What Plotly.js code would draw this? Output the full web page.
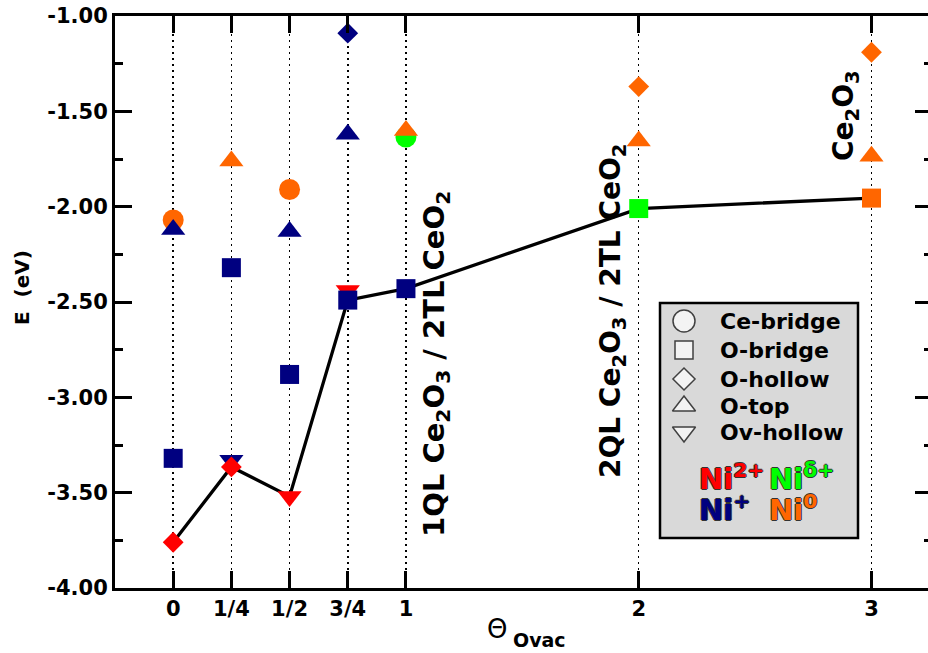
<!DOCTYPE html>
<html>
<head>
<meta charset="utf-8">
<script src="https://cdn.plot.ly/plotly-3.0.1.min.js"></script>
<style>
html, body { margin: 0; padding: 0; overflow: hidden; background: #fff; }
#chart { width: 934px; height: 653px; }
</style>
</head>
<body>
<div id="chart"></div>
<script>
// ---- data ----
const theta = [0, 0.25, 0.5, 0.75, 1, 2, 3];
const thetaLabels = ['0', '1/4', '1/2', '3/4', '1', '2', '3'];
const yTicks = [-4, -3.5, -3, -2.5, -2, -1.5, -1];

const niColors = { '2+': '#ff0000', '+': '#000080', 'd+': '#00ff00', '0': '#ff6600' };

const ceBridgeX = [0, 0.5, 1];
const ceBridgeE = [-2.07, -1.91, -1.635];
const ceBridgeNi = ['0', '0', 'd+'];

const oBridgeX = [0, 0.25, 0.5, 0.75, 1, 2, 3];
const oBridgeE = [-3.32, -2.32, -2.88, -2.49, -2.43, -2.01, -1.955];
const oBridgeNi = ['+', '+', '+', '+', '+', 'd+', '0'];

const oHollowX = [0, 0.25, 0.75, 2, 3];
const oHollowE = [-3.76, -3.365, -1.09, -1.37, -1.19];
const oHollowNi = ['2+', '2+', '+', '0', '0'];

const oTopX = [0, 0.25, 0.5, 0.75, 1, 2, 3];
const oTopE = [-2.12, -1.76, -2.13, -1.62, -1.60, -1.655, -1.735];
const oTopNi = ['+', '0', '+', '+', '0', '0', '0'];

const ovHollowX = [0.25, 0.5, 0.75];
const ovHollowE = [-3.33, -3.52, -2.44];
const ovHollowNi = ['+', '2+', '2+'];

const minE = [-3.76, -3.365, -3.52, -2.49, -2.43, -2.01, -1.955];

const legendNames = ['Ce-bridge', 'O-bridge', 'O-hollow', 'O-top', 'Ov-hollow'];
const legendSymbols = ['circle', 'square', 'diamond', 'triangle-up', 'triangle-down'];

// ---- layout helpers ----
const L = 115, R = 932, T = 16, B = 588;
const px = x => (x - L) / (R - L);
const py = y => (B - y) / (B - T);

const FONT = 'DejaVu Sans';
const col = arr => arr.map(k => niColors[k]);

function markerTrace(x, y, ni, symbol, size) {
  return {
    x: x, y: y, type: 'scatter', mode: 'markers', showlegend: false, hoverinfo: 'skip',
    marker: { symbol: symbol, size: size, color: col(ni), line: { width: 0 } }
  };
}

const traces = [
  { x: theta, y: minE, type: 'scatter', mode: 'lines', showlegend: false,
    line: { color: '#000', width: 3.3 }, hoverinfo: 'skip' },
  markerTrace(ceBridgeX, ceBridgeE, ceBridgeNi, 'circle', 21),
  markerTrace(ovHollowX, ovHollowE, ovHollowNi, 'triangle-down', 21),
  markerTrace(oTopX, oTopE, oTopNi, 'triangle-up', 21),
  markerTrace(oBridgeX, oBridgeE, oBridgeNi, 'square', 19),
  markerTrace(oHollowX, oHollowE, oHollowNi, 'diamond', 16)
];

// legend key symbols (layout positions on an overlay paper-like axis)
const legRowsY = [321, 350, 379, 406, 432];
traces.push({
  x: legRowsY.map(() => px(684)), y: legRowsY.map(py),
  xaxis: 'x2', yaxis: 'y2', type: 'scatter', mode: 'markers', showlegend: false, hoverinfo: 'skip',
  marker: { symbol: legendSymbols, size: [22, 18, 17, 20, 20], color: '#fff',
            line: { color: '#000', width: 1.5 } }
});

const annotations = [];
legendNames.forEach((n, i) => {
  annotations.push({ xref: 'paper', yref: 'paper', x: px(718), y: py(legRowsY[i]),
    xanchor: 'left', yanchor: 'middle', showarrow: false, text: n,
    font: { family: FONT, size: 22, weight: 'bold', color: '#000' } });
});

const outline = '1px 0 0 #333, -1px 0 0 #333, 0 1px 0 #333, 0 -1px 0 #333';
const niLabels = [
  { t: 'Ni<sup>2+</sup>', c: niColors['2+'], x: 697, y: 477 },
  { t: 'Ni<sup>δ+</sup>', c: niColors['d+'], x: 767, y: 477 },
  { t: 'Ni<sup>+</sup>', c: niColors['+'], x: 697, y: 508 },
  { t: 'Ni<sup>0</sup>', c: niColors['0'], x: 767, y: 508 }
];
niLabels.forEach(o => {
  annotations.push({ xref: 'paper', yref: 'paper', x: px(o.x), y: py(o.y),
    xanchor: 'left', yanchor: 'middle', showarrow: false, text: o.t,
    font: { family: FONT, size: 29, weight: 'bold', color: o.c, shadow: outline } });
});

const rot = [
  { t: '1QL Ce<sub>2</sub>O<sub>3</sub> / 2TL CeO<sub>2</sub>', x: 436, y: 364, s: 29 },
  { t: '2QL Ce<sub>2</sub>O<sub>3</sub> / 2TL CeO<sub>2</sub>', x: 612, y: 311, s: 28 },
  { t: 'Ce<sub>2</sub>O<sub>3</sub>', x: 846, y: 116, s: 28 }
];
rot.forEach(o => {
  annotations.push({ xref: 'paper', yref: 'paper', x: px(o.x), y: py(o.y),
    xanchor: 'center', yanchor: 'middle', showarrow: false, text: o.t, textangle: -90,
    font: { family: FONT, size: o.s, weight: 'bold', color: '#000' } });
});

// axis titles
annotations.push({ xref: 'paper', yref: 'paper', x: px(22), y: py(288),
  xanchor: 'center', yanchor: 'middle', showarrow: false, text: 'E  (eV)', textangle: -90,
  font: { family: FONT, size: 20, weight: 'bold', color: '#000' } });
annotations.push({ xref: 'paper', yref: 'paper', x: px(497), y: py(629),
  xanchor: 'center', yanchor: 'middle', showarrow: false, text: 'Θ',
  font: { family: FONT, size: 26, color: '#000' } });
annotations.push({ xref: 'paper', yref: 'paper', x: px(511), y: py(640),
  xanchor: 'left', yanchor: 'middle', showarrow: false, text: 'Ovac',
  font: { family: FONT, size: 19, weight: 'bold', color: '#000' } });

const layout = {
  width: 934, height: 653,
  margin: { l: L, r: 934 - R, t: T, b: 653 - B, pad: 0 },
  paper_bgcolor: '#fff', plot_bgcolor: '#fff',
  showlegend: false,
  xaxis: {
    range: [-0.25, 3.26], tickmode: 'array', tickvals: theta, ticktext: thetaLabels,
    ticks: 'inside', ticklen: 17, tickwidth: 3, tickcolor: '#000',
    showline: true, linewidth: 3, linecolor: '#000', mirror: 'ticks',
    showgrid: true, gridcolor: '#000', gridwidth: 1.5, griddash: '1.5px,4.5px',
    zeroline: false,
    tickfont: { family: FONT, size: 21, weight: 'bold', color: '#000' }
  },
  yaxis: {
    range: [-4, -1], tickmode: 'array', tickvals: yTicks, ticktext: yTicks.map(v => v.toFixed(2)),
    ticks: 'inside', ticklen: 17, tickwidth: 3, tickcolor: '#000',
    minor: { tickmode: 'linear', tick0: -4, dtick: 0.25, ticks: 'inside', ticklen: 8, tickwidth: 3, tickcolor: '#000', showgrid: false },
    showline: true, linewidth: 3, linecolor: '#000', mirror: 'ticks',
    showgrid: false, zeroline: false,
    tickfont: { family: FONT, size: 21, weight: 'bold', color: '#000' }
  },
  xaxis2: { overlaying: 'x', range: [0, 1], visible: false, fixedrange: true },
  yaxis2: { overlaying: 'y', range: [0, 1], visible: false, fixedrange: true },
  shapes: [
    { type: 'rect', xref: 'paper', yref: 'paper', x0: px(660), x1: px(858), y0: py(538), y1: py(303),
      fillcolor: '#d9d9d9', line: { color: '#000', width: 2.5 }, layer: 'between' }
  ],
  annotations: annotations
};

Plotly.newPlot('chart', traces, layout, { staticPlot: true, displayModeBar: false });
</script>
</body>
</html>
